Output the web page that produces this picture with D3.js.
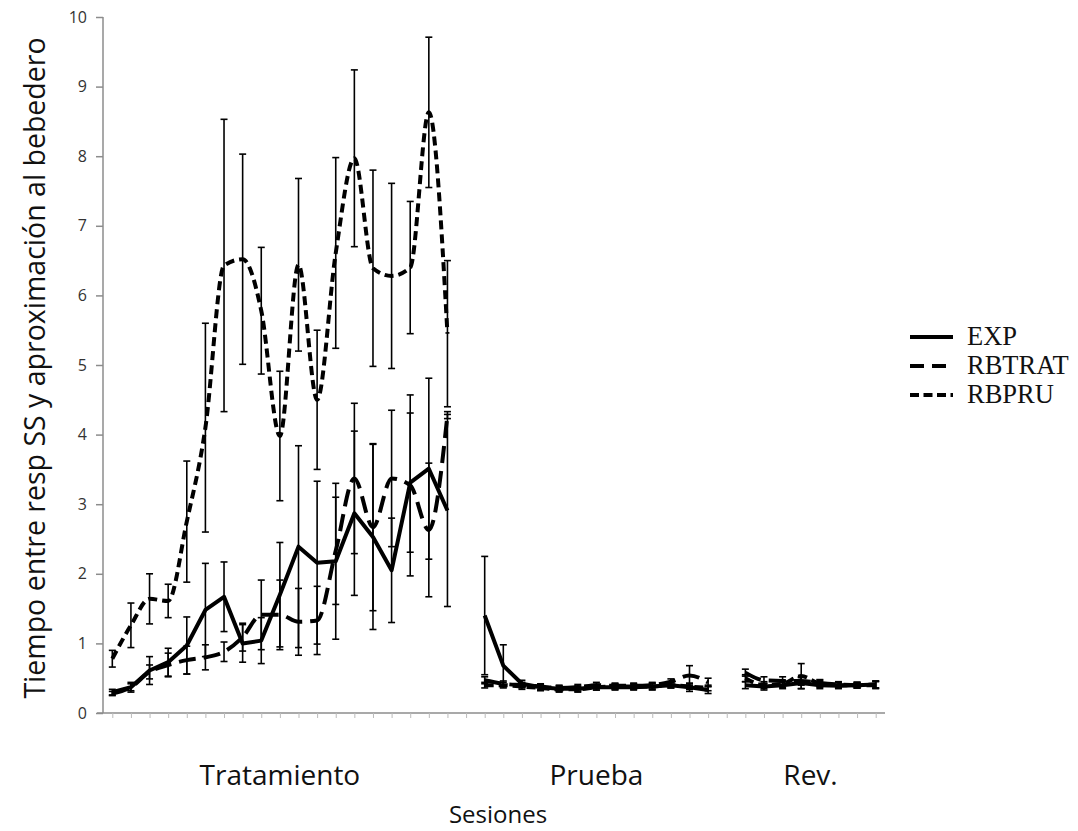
<!DOCTYPE html>
<html>
<head>
<meta charset="utf-8">
<script src="https://cdn.jsdelivr.net/npm/d3@7"></script>
<style>
    body { margin: 0; background: #fff; }
    .tick text { font-family: 'Open Sans', sans-serif; }
</style>
</head>
<body>
<div id="chart"></div>
<script>
// sessions: 19 treatment, gap, 13 test, gap, 8 reversal
const sessions = d3.range(42);
const phaseLabels = ['Tratamiento', 'Prueba', 'Rev.'];
const phaseSpans = [[0, 18], [20, 32], [34, 41]];
const yTicks = [0, 1, 2, 3, 4, 5, 6, 7, 8, 9, 10];
const seriesNames = ['EXP', 'RBTRAT', 'RBPRU'];

const expMean = [0.30, 0.37, 0.61, 0.73, 0.97, 1.48, 1.67, 1.00, 1.04, 1.70, 2.39, 2.16, 2.18, 2.87, 2.53, 2.05, 3.31, 3.51, 2.91,
    null,
    1.40, 0.68, 0.42, 0.37, 0.35, 0.35, 0.37, 0.37, 0.37, 0.38, 0.40, 0.37, 0.33,
    null,
    0.40, 0.38, 0.40, 0.43, 0.40, 0.39, 0.40, 0.41];
const expErr = [0.04, 0.07, 0.20, 0.20, 0.41, 0.67, 0.50, 0.27, 0.33, 0.75, 1.45, 1.17, 1.12, 1.18, 1.33, 0.75, 1.00, 1.30, 1.38,
    null,
    0.85, 0.30, 0.05, 0.04, 0.04, 0.04, 0.04, 0.04, 0.04, 0.05, 0.04, 0.06, 0.05,
    null,
    0.05, 0.05, 0.05, 0.08, 0.05, 0.04, 0.04, 0.05];

const rbtratMean = [0.28, 0.37, 0.59, 0.69, 0.76, 0.80, 0.88, 1.09, 1.41, 1.41, 1.31, 1.33, 2.33, 3.37, 2.67, 3.37, 3.27, 2.63, 4.28,
    null,
    0.47, 0.42, 0.40, 0.38, 0.36, 0.37, 0.40, 0.39, 0.39, 0.40, 0.45, 0.54, 0.44,
    null,
    0.58, 0.47, 0.46, 0.46, 0.43, 0.41, 0.40, 0.41];
const rbtratErr = [0.03, 0.05, 0.10, 0.17, 0.20, 0.18, 0.14, 0.20, 0.50, 0.50, 0.48, 0.49, 0.77, 1.08, 1.20, 0.98, 1.30, 0.96, 0.05,
    null,
    0.05, 0.04, 0.04, 0.04, 0.04, 0.04, 0.04, 0.04, 0.04, 0.04, 0.04, 0.14, 0.06,
    null,
    0.05, 0.05, 0.06, 0.06, 0.05, 0.04, 0.04, 0.05];

const rbpruMean = [0.78, 1.26, 1.64, 1.61, 2.75, 4.10, 6.43, 6.52, 5.78, 3.98, 6.44, 4.50, 6.61, 7.97, 6.39, 6.28, 6.40, 8.63, 5.45,
    null,
    0.40, 0.40, 0.38, 0.36, 0.34, 0.34, 0.37, 0.38, 0.38, 0.38, 0.40, 0.38, 0.36,
    null,
    0.50, 0.40, 0.42, 0.53, 0.42, 0.40, 0.40, 0.40];
const rbpruErr = [0.12, 0.32, 0.36, 0.24, 0.87, 1.50, 2.10, 1.51, 0.91, 0.93, 1.24, 1.00, 1.37, 1.27, 1.41, 1.33, 0.95, 1.08, 1.05,
    null,
    0.04, 0.04, 0.04, 0.04, 0.04, 0.04, 0.04, 0.04, 0.04, 0.04, 0.04, 0.04, 0.04,
    null,
    0.05, 0.05, 0.05, 0.18, 0.05, 0.04, 0.04, 0.05];

let width = 1078;
let height = 831;
let margin = {top: 17, bottom: 118, left: 103, right: 193};
let chartWidth = width - margin.left - margin.right;
let chartHeight = height - margin.top - margin.bottom;

let xScale, yScale, svg, chart;

const series = [
    {name: seriesNames[0], mean: expMean, err: expErr, dash: null, curve: d3.curveLinear},
    {name: seriesNames[1], mean: rbtratMean, err: rbtratErr, dash: '17,8', curve: d3.curveMonotoneX},
    {name: seriesNames[2], mean: rbpruMean, err: rbpruErr, dash: '9,5', curve: d3.curveMonotoneX}
];

function buildScales() {
    xScale = d3.scalePoint()
        .domain(sessions)
        .range([0, chartWidth])
        .padding(0.5);

    yScale = d3.scaleLinear()
        .domain([0, 10])
        .range([chartHeight, 0]);
}

function buildSVG() {
    svg = d3.select('#chart')
        .append('svg')
        .attr('width', width)
        .attr('height', height);

    chart = svg.append('g')
        .attr('transform', `translate(${margin.left},${margin.top})`);
}

function drawAxes() {
    let yAxis = d3.axisLeft(yScale)
        .tickValues(yTicks)
        .tickSize(7)
        .tickPadding(9);

    let yG = chart.append('g').call(yAxis);
    yG.select('.domain').attr('stroke', '#8c8c8c').attr('stroke-width', 1.5).attr('d', `M0,${chartHeight}V0`);
    yG.selectAll('.tick line').attr('stroke', '#8c8c8c').attr('stroke-width', 1.5);
    yG.selectAll('.tick text')
        .attr('font-size', 16)
        .attr('fill', '#333');

    let xAxis = d3.axisBottom(xScale)
        .tickSize(5)
        .tickFormat('');

    let xG = chart.append('g')
        .attr('transform', `translate(0,${chartHeight})`)
        .call(xAxis);
    xG.select('.domain').attr('stroke', '#8c8c8c').attr('stroke-width', 1.5).attr('d', `M-6,0H${chartWidth}`);
    xG.selectAll('.tick line').attr('stroke', '#bbb').attr('stroke-width', 1);

    // phase labels under the axis
    chart.append('g')
        .selectAll('text')
        .data(phaseSpans)
        .join('text')
        .attr('x', (d) => (xScale(d[0]) + xScale(d[1])) / 2)
        .attr('y', chartHeight + 72)
        .attr('text-anchor', 'middle')
        .attr('font-family', 'Open Sans, sans-serif')
        .attr('font-size', 28)
        .attr('fill', '#111')
        .text((d, i) => phaseLabels[i]);

    chart.append('text')
        .attr('x', chartWidth / 2 + 4)
        .attr('y', chartHeight + 110)
        .attr('text-anchor', 'middle')
        .attr('font-family', 'Open Sans, sans-serif')
        .attr('font-size', 24)
        .attr('fill', '#111')
        .text('Sesiones');

    svg.append('text')
        .attr('transform', `translate(45,${margin.top + chartHeight / 2 + 3}) rotate(-90)`)
        .attr('text-anchor', 'middle')
        .attr('font-family', 'Open Sans, sans-serif')
        .attr('font-size', 28.5)
        .attr('fill', '#111')
        .text('Tiempo entre resp SS y aproximación al bebedero');
}

function drawErrorBars() {
    series.forEach((s) => {
        let pts = sessions.filter((i) => s.mean[i] !== null);
        let g = chart.append('g').attr('stroke', '#000').attr('stroke-width', 1.6);

        g.selectAll('.bar')
            .data(pts)
            .join('line')
            .attr('x1', (i) => xScale(i))
            .attr('x2', (i) => xScale(i))
            .attr('y1', (i) => yScale(s.mean[i] + s.err[i]))
            .attr('y2', (i) => yScale(s.mean[i] - s.err[i]));

        [1, -1].forEach((sign) => {
            g.append('g')
                .selectAll('line')
                .data(pts)
                .join('line')
                .attr('x1', (i) => xScale(i) - 3.5)
                .attr('x2', (i) => xScale(i) + 3.5)
                .attr('y1', (i) => yScale(s.mean[i] + sign * s.err[i]))
                .attr('y2', (i) => yScale(s.mean[i] + sign * s.err[i]));
        });
    });
}

function drawLines() {
    series.forEach((s) => {
        let line = d3.line()
            .defined((i) => s.mean[i] !== null)
            .x((i) => xScale(i))
            .y((i) => yScale(s.mean[i]))
            .curve(s.curve);

        chart.append('path')
            .datum(sessions)
            .attr('fill', 'none')
            .attr('stroke', '#000')
            .attr('stroke-width', 4)
            .attr('stroke-linejoin', 'round')
            .attr('stroke-dasharray', s.dash)
            .attr('d', line);
    });
}

function drawLegend() {
    let legend = svg.append('g')
        .attr('transform', 'translate(910,337)');

    let items = legend.selectAll('g')
        .data(series)
        .join('g')
        .attr('transform', (d, i) => `translate(0,${i * 29})`);

    items.append('line')
        .attr('x1', 0)
        .attr('x2', 43)
        .attr('stroke', '#000')
        .attr('stroke-width', 4)
        .attr('stroke-dasharray', (d) => d.dash === null ? null : (d.name === 'RBTRAT' ? '14,8' : '9,4.5'));

    items.append('text')
        .attr('x', 57)
        .attr('y', 8)
        .attr('font-family', 'Liberation Serif, serif')
        .attr('font-size', 26.5)
        .attr('fill', '#111')
        .text((d) => d.name);
}

buildScales();
buildSVG();
drawAxes();
drawErrorBars();
drawLines();
drawLegend();
</script>
</body>
</html>
